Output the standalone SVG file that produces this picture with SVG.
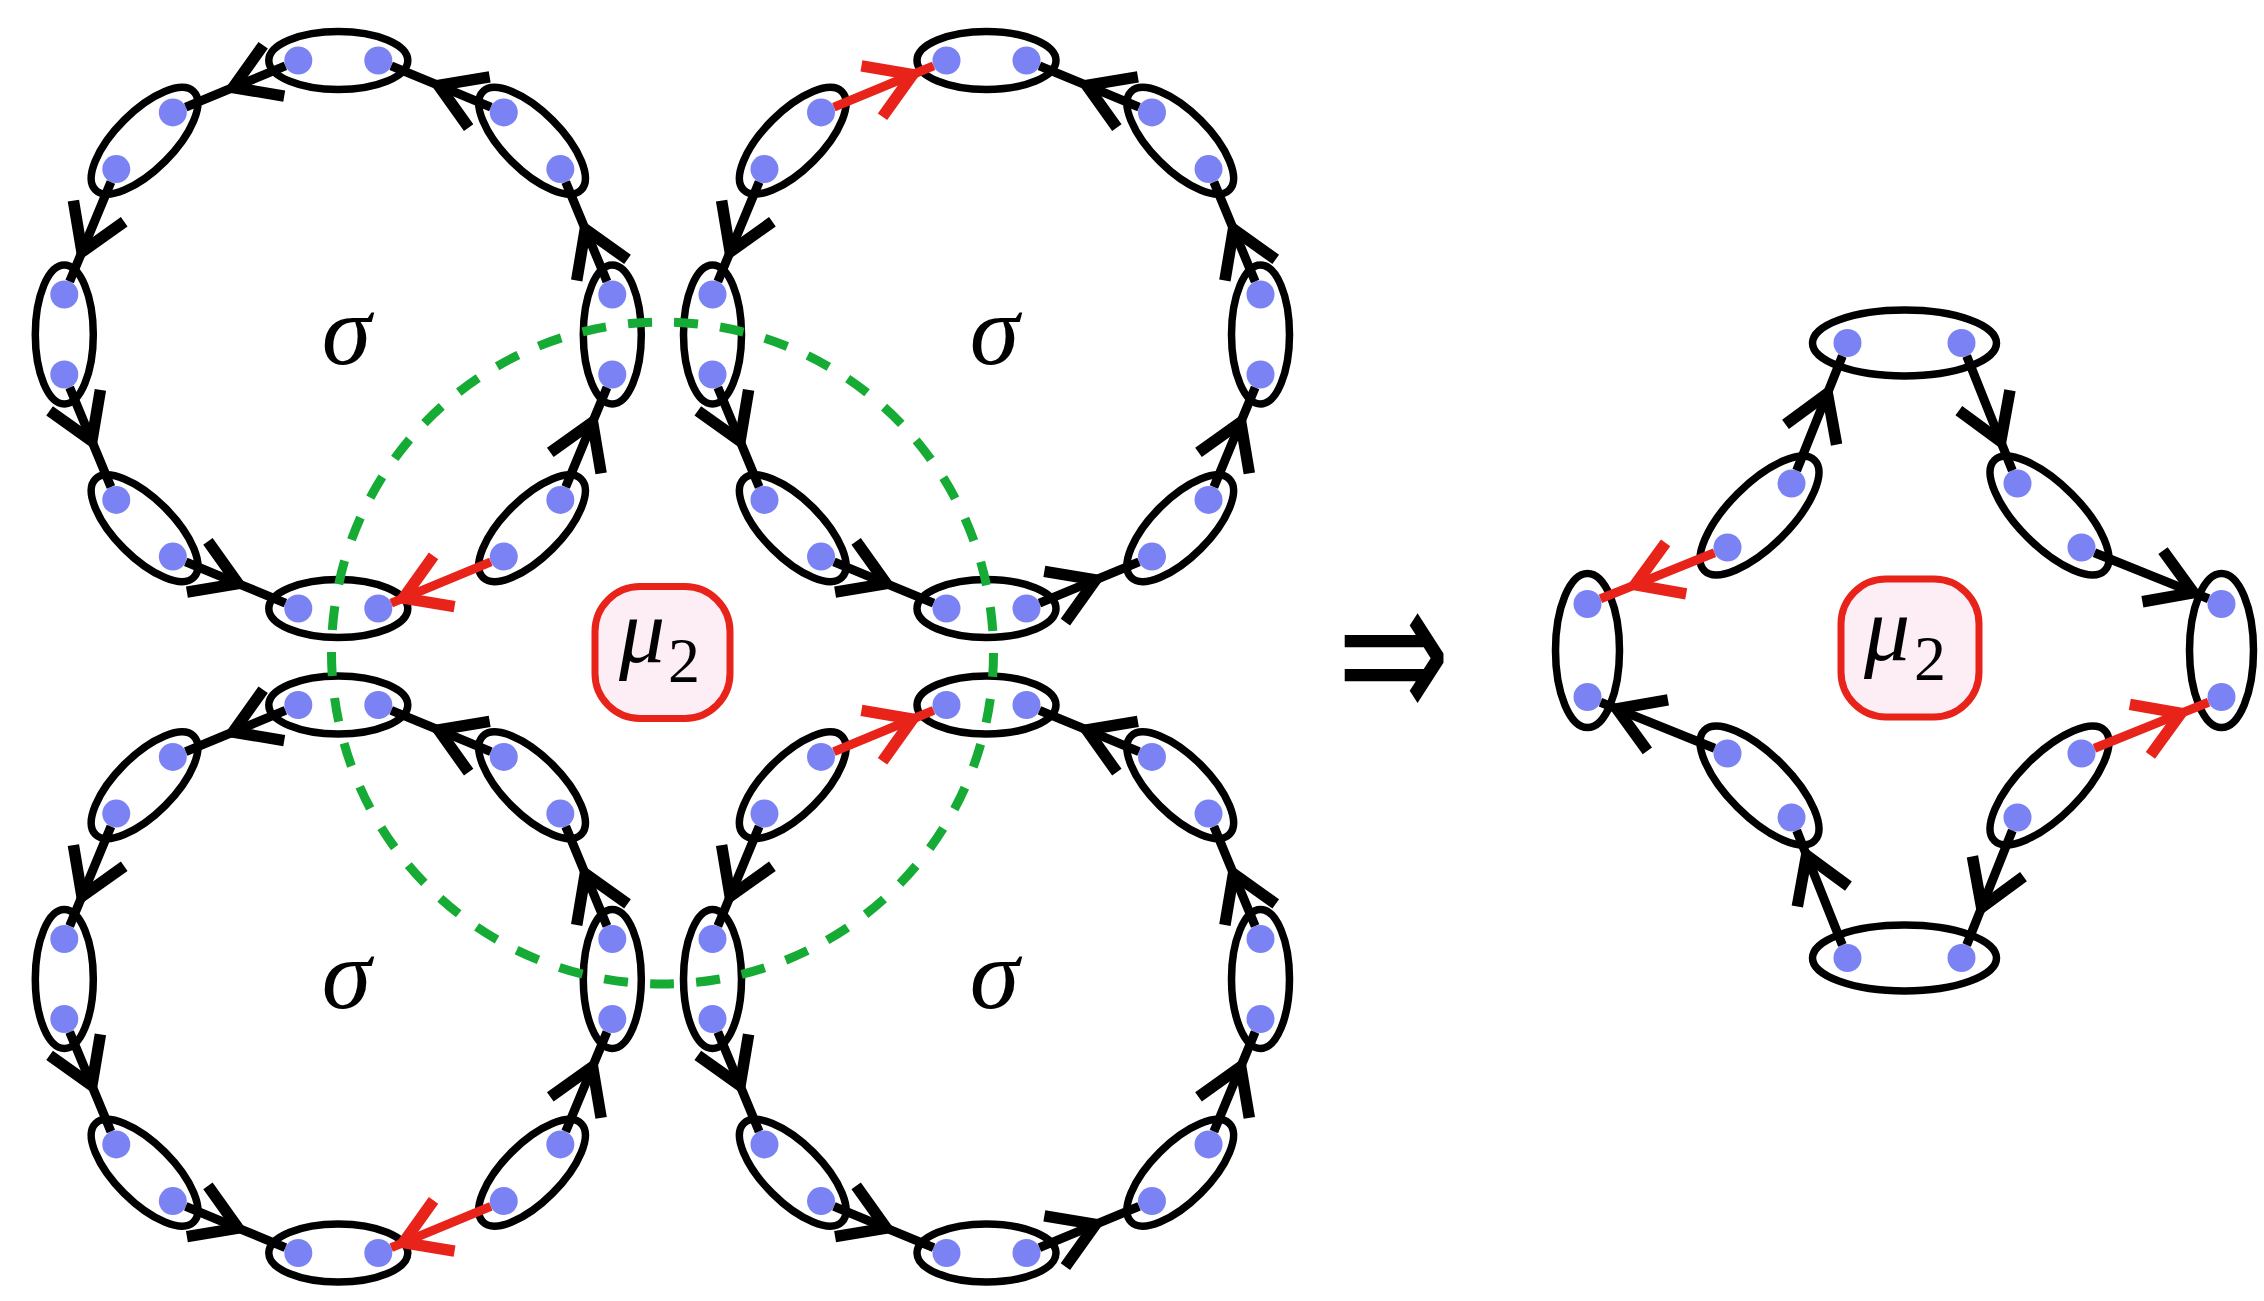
<svg xmlns="http://www.w3.org/2000/svg" width="2264" height="1301" viewBox="0 0 2264 1301">
<style>
.oval{fill:none;stroke:#000;stroke-width:7.5}
.dot{fill:#7b83f4}
.ck{fill:none;stroke:#000;stroke-width:9;marker-mid:url(#chk)}
.cr{fill:none;stroke:#e8231a;stroke-width:9;marker-mid:url(#chr)}
.sig{font-family:"Liberation Serif",serif;font-style:italic;font-size:100px;text-anchor:middle;fill:#000}
.mu{font-family:"Liberation Serif",serif;fill:#000}
.box{fill:#fdeef5;stroke:#e8231a;stroke-width:7}
.green{fill:none;stroke:#16ab35;stroke-width:9;stroke-dasharray:24 22.2}
</style>
<defs>
<marker id="chk" markerUnits="userSpaceOnUse" orient="auto" overflow="visible" markerWidth="10" markerHeight="10" refX="0" refY="0">
<path d="M-44,-27.5 L0,0 L-44,27.5" fill="none" stroke="#000" stroke-width="11.5"/>
</marker>
<marker id="chr" markerUnits="userSpaceOnUse" orient="auto" overflow="visible" markerWidth="10" markerHeight="10" refX="0" refY="0">
<path d="M-44,-27.5 L0,0 L-44,27.5" fill="none" stroke="#e8231a" stroke-width="11.5"/>
</marker>
</defs>
<rect width="2264" height="1301" fill="#fff"/>

<!-- Ring A (top-left) -->
<g id="ringA" transform="translate(338.3,334.5)">
<g id="A-T"><ellipse class="oval" cx="0" cy="-274" rx="69.5" ry="29"/><circle class="dot" cx="-40" cy="-274" r="14"/><circle class="dot" cx="40" cy="-274" r="14"/></g>
<g id="A-TR"><ellipse class="oval" rx="69.5" ry="29" transform="translate(193.75,-193.75) rotate(45)"/><circle class="dot" cx="165.47" cy="-222.03" r="14"/><circle class="dot" cx="222.03" cy="-165.47" r="14"/></g>
<g id="A-R"><ellipse class="oval" rx="69.5" ry="29" transform="translate(274,0) rotate(90)"/><circle class="dot" cx="274" cy="-40" r="14"/><circle class="dot" cx="274" cy="40" r="14"/></g>
<g id="A-BR"><ellipse class="oval" rx="69.5" ry="29" transform="translate(193.75,193.75) rotate(135)"/><circle class="dot" cx="222.03" cy="165.47" r="14"/><circle class="dot" cx="165.47" cy="222.03" r="14"/></g>
<g id="A-B"><ellipse class="oval" cx="0" cy="274" rx="69.5" ry="29"/><circle class="dot" cx="40" cy="274" r="14"/><circle class="dot" cx="-40" cy="274" r="14"/></g>
<g id="A-BL"><ellipse class="oval" rx="69.5" ry="29" transform="translate(-193.75,193.75) rotate(45)"/><circle class="dot" cx="-165.47" cy="222.03" r="14"/><circle class="dot" cx="-222.03" cy="165.47" r="14"/></g>
<g id="A-L"><ellipse class="oval" rx="69.5" ry="29" transform="translate(-274,0) rotate(90)"/><circle class="dot" cx="-274" cy="40" r="14"/><circle class="dot" cx="-274" cy="-40" r="14"/></g>
<g id="A-TL"><ellipse class="oval" rx="69.5" ry="29" transform="translate(-193.75,-193.75) rotate(135)"/><circle class="dot" cx="-222.03" cy="-165.47" r="14"/><circle class="dot" cx="-165.47" cy="-222.03" r="14"/></g>
<g id="A-connectors">
<path class="ck" d="M152.54,-227.39 L100.23,-249.05 L52.93,-268.64"/>
<path class="ck" d="M268.64,-52.93 L246.98,-105.24 L227.39,-152.54"/>
<path class="ck" d="M227.39,152.54 L254.25,87.68 L268.64,52.93"/>
<path class="cr" d="M152.54,227.39 L65.09,263.61 L52.93,268.64"/>
<path class="ck" d="M-152.54,227.39 L-100.23,249.05 L-52.93,268.64"/>
<path class="ck" d="M-268.64,52.93 L-246.46,106.5 L-227.39,152.54"/>
<path class="ck" d="M-227.39,-152.54 L-256.33,-82.66 L-268.64,-52.93"/>
<path class="ck" d="M-52.93,-268.64 L-105.24,-246.98 L-152.54,-227.39"/>
</g>
<text class="sig" x="8" y="29">σ</text>
</g>

<!-- Ring B (top-right) -->
<g id="ringB" transform="translate(986.5,334.5)">
<g id="B-T"><ellipse class="oval" cx="0" cy="-274" rx="69.5" ry="29"/><circle class="dot" cx="-40" cy="-274" r="14"/><circle class="dot" cx="40" cy="-274" r="14"/></g>
<g id="B-TR"><ellipse class="oval" rx="69.5" ry="29" transform="translate(193.75,-193.75) rotate(45)"/><circle class="dot" cx="165.47" cy="-222.03" r="14"/><circle class="dot" cx="222.03" cy="-165.47" r="14"/></g>
<g id="B-R"><ellipse class="oval" rx="69.5" ry="29" transform="translate(274,0) rotate(90)"/><circle class="dot" cx="274" cy="-40" r="14"/><circle class="dot" cx="274" cy="40" r="14"/></g>
<g id="B-BR"><ellipse class="oval" rx="69.5" ry="29" transform="translate(193.75,193.75) rotate(135)"/><circle class="dot" cx="222.03" cy="165.47" r="14"/><circle class="dot" cx="165.47" cy="222.03" r="14"/></g>
<g id="B-B"><ellipse class="oval" cx="0" cy="274" rx="69.5" ry="29"/><circle class="dot" cx="40" cy="274" r="14"/><circle class="dot" cx="-40" cy="274" r="14"/></g>
<g id="B-BL"><ellipse class="oval" rx="69.5" ry="29" transform="translate(-193.75,193.75) rotate(45)"/><circle class="dot" cx="-165.47" cy="222.03" r="14"/><circle class="dot" cx="-222.03" cy="165.47" r="14"/></g>
<g id="B-L"><ellipse class="oval" rx="69.5" ry="29" transform="translate(-274,0) rotate(90)"/><circle class="dot" cx="-274" cy="40" r="14"/><circle class="dot" cx="-274" cy="-40" r="14"/></g>
<g id="B-TL"><ellipse class="oval" rx="69.5" ry="29" transform="translate(-193.75,-193.75) rotate(135)"/><circle class="dot" cx="-222.03" cy="-165.47" r="14"/><circle class="dot" cx="-165.47" cy="-222.03" r="14"/></g>
<g id="B-connectors">
<path class="ck" d="M152.54,-227.39 L100.23,-249.05 L52.93,-268.64"/>
<path class="ck" d="M268.64,-52.93 L246.98,-105.24 L227.39,-152.54"/>
<path class="ck" d="M227.39,152.54 L254.25,87.68 L268.64,52.93"/>
<path class="ck" d="M52.93,268.64 L109.01,245.42 L152.54,227.39"/>
<path class="ck" d="M-152.54,227.39 L-100.23,249.05 L-52.93,268.64"/>
<path class="ck" d="M-268.64,52.93 L-246.46,106.5 L-227.39,152.54"/>
<path class="ck" d="M-227.39,-152.54 L-256.33,-82.66 L-268.64,-52.93"/>
<path class="cr" d="M-152.54,-227.39 L-73.88,-259.97 L-52.93,-268.64"/>
</g>
<text class="sig" x="8" y="29">σ</text>
</g>

<!-- Ring C (bottom-left) -->
<g id="ringC" transform="translate(338.3,979)">
<g id="C-T"><ellipse class="oval" cx="0" cy="-274" rx="69.5" ry="29"/><circle class="dot" cx="-40" cy="-274" r="14"/><circle class="dot" cx="40" cy="-274" r="14"/></g>
<g id="C-TR"><ellipse class="oval" rx="69.5" ry="29" transform="translate(193.75,-193.75) rotate(45)"/><circle class="dot" cx="165.47" cy="-222.03" r="14"/><circle class="dot" cx="222.03" cy="-165.47" r="14"/></g>
<g id="C-R"><ellipse class="oval" rx="69.5" ry="29" transform="translate(274,0) rotate(90)"/><circle class="dot" cx="274" cy="-40" r="14"/><circle class="dot" cx="274" cy="40" r="14"/></g>
<g id="C-BR"><ellipse class="oval" rx="69.5" ry="29" transform="translate(193.75,193.75) rotate(135)"/><circle class="dot" cx="222.03" cy="165.47" r="14"/><circle class="dot" cx="165.47" cy="222.03" r="14"/></g>
<g id="C-B"><ellipse class="oval" cx="0" cy="274" rx="69.5" ry="29"/><circle class="dot" cx="40" cy="274" r="14"/><circle class="dot" cx="-40" cy="274" r="14"/></g>
<g id="C-BL"><ellipse class="oval" rx="69.5" ry="29" transform="translate(-193.75,193.75) rotate(45)"/><circle class="dot" cx="-165.47" cy="222.03" r="14"/><circle class="dot" cx="-222.03" cy="165.47" r="14"/></g>
<g id="C-L"><ellipse class="oval" rx="69.5" ry="29" transform="translate(-274,0) rotate(90)"/><circle class="dot" cx="-274" cy="40" r="14"/><circle class="dot" cx="-274" cy="-40" r="14"/></g>
<g id="C-TL"><ellipse class="oval" rx="69.5" ry="29" transform="translate(-193.75,-193.75) rotate(135)"/><circle class="dot" cx="-222.03" cy="-165.47" r="14"/><circle class="dot" cx="-165.47" cy="-222.03" r="14"/></g>
<g id="C-connectors">
<path class="ck" d="M152.54,-227.39 L100.23,-249.05 L52.93,-268.64"/>
<path class="ck" d="M268.64,-52.93 L246.98,-105.24 L227.39,-152.54"/>
<path class="ck" d="M227.39,152.54 L254.25,87.68 L268.64,52.93"/>
<path class="cr" d="M152.54,227.39 L65.09,263.61 L52.93,268.64"/>
<path class="ck" d="M-152.54,227.39 L-100.23,249.05 L-52.93,268.64"/>
<path class="ck" d="M-268.64,52.93 L-246.46,106.5 L-227.39,152.54"/>
<path class="ck" d="M-227.39,-152.54 L-256.33,-82.66 L-268.64,-52.93"/>
<path class="ck" d="M-52.93,-268.64 L-105.24,-246.98 L-152.54,-227.39"/>
</g>
<text class="sig" x="8" y="29">σ</text>
</g>

<!-- Ring D (bottom-right) -->
<g id="ringD" transform="translate(986.5,979)">
<g id="D-T"><ellipse class="oval" cx="0" cy="-274" rx="69.5" ry="29"/><circle class="dot" cx="-40" cy="-274" r="14"/><circle class="dot" cx="40" cy="-274" r="14"/></g>
<g id="D-TR"><ellipse class="oval" rx="69.5" ry="29" transform="translate(193.75,-193.75) rotate(45)"/><circle class="dot" cx="165.47" cy="-222.03" r="14"/><circle class="dot" cx="222.03" cy="-165.47" r="14"/></g>
<g id="D-R"><ellipse class="oval" rx="69.5" ry="29" transform="translate(274,0) rotate(90)"/><circle class="dot" cx="274" cy="-40" r="14"/><circle class="dot" cx="274" cy="40" r="14"/></g>
<g id="D-BR"><ellipse class="oval" rx="69.5" ry="29" transform="translate(193.75,193.75) rotate(135)"/><circle class="dot" cx="222.03" cy="165.47" r="14"/><circle class="dot" cx="165.47" cy="222.03" r="14"/></g>
<g id="D-B"><ellipse class="oval" cx="0" cy="274" rx="69.5" ry="29"/><circle class="dot" cx="40" cy="274" r="14"/><circle class="dot" cx="-40" cy="274" r="14"/></g>
<g id="D-BL"><ellipse class="oval" rx="69.5" ry="29" transform="translate(-193.75,193.75) rotate(45)"/><circle class="dot" cx="-165.47" cy="222.03" r="14"/><circle class="dot" cx="-222.03" cy="165.47" r="14"/></g>
<g id="D-L"><ellipse class="oval" rx="69.5" ry="29" transform="translate(-274,0) rotate(90)"/><circle class="dot" cx="-274" cy="40" r="14"/><circle class="dot" cx="-274" cy="-40" r="14"/></g>
<g id="D-TL"><ellipse class="oval" rx="69.5" ry="29" transform="translate(-193.75,-193.75) rotate(135)"/><circle class="dot" cx="-222.03" cy="-165.47" r="14"/><circle class="dot" cx="-165.47" cy="-222.03" r="14"/></g>
<g id="D-connectors">
<path class="ck" d="M152.54,-227.39 L100.23,-249.05 L52.93,-268.64"/>
<path class="ck" d="M268.64,-52.93 L246.98,-105.24 L227.39,-152.54"/>
<path class="ck" d="M227.39,152.54 L254.25,87.68 L268.64,52.93"/>
<path class="ck" d="M52.93,268.64 L109.01,245.42 L152.54,227.39"/>
<path class="ck" d="M-152.54,227.39 L-100.23,249.05 L-52.93,268.64"/>
<path class="ck" d="M-268.64,52.93 L-246.46,106.5 L-227.39,152.54"/>
<path class="ck" d="M-227.39,-152.54 L-256.33,-82.66 L-268.64,-52.93"/>
<path class="cr" d="M-152.54,-227.39 L-73.88,-259.97 L-52.93,-268.64"/>
</g>
<text class="sig" x="8" y="29">σ</text>
</g>

<!-- green dashed loop -->
<circle id="loop" class="green" cx="662.5" cy="653" r="331"/>

<!-- mu box (left) -->
<g id="mu-left">
<rect class="box" x="595" y="586.5" width="135" height="132" rx="45" ry="45"/>
<text class="mu"><tspan x="619" y="662" font-size="92" font-style="italic">μ</tspan><tspan x="668" y="682" font-size="64">2</tspan></text>
</g>

<!-- implication arrow -->
<text id="implies" x="1337" y="724" font-family="DejaVu Sans, sans-serif" font-size="210" textLength="113" lengthAdjust="spacingAndGlyphs">⇒</text>

<!-- Right diagram -->
<g id="merged" transform="translate(1904.5,650.5)">
<g id="M-T"><ellipse class="oval" cx="0" cy="-307.5" rx="92" ry="33"/><circle class="dot" cx="-57" cy="-307.5" r="14"/><circle class="dot" cx="57" cy="-307.5" r="14"/></g>
<g id="M-B"><ellipse class="oval" cx="0" cy="307.5" rx="92" ry="33"/><circle class="dot" cx="-57" cy="307.5" r="14"/><circle class="dot" cx="57" cy="307.5" r="14"/></g>
<g id="M-L"><ellipse class="oval" cx="-317" cy="0" rx="32" ry="77"/><circle class="dot" cx="-317" cy="-46.5" r="14"/><circle class="dot" cx="-317" cy="46.5" r="14"/></g>
<g id="M-R"><ellipse class="oval" cx="317" cy="0" rx="32" ry="77"/><circle class="dot" cx="317" cy="-46.5" r="14"/><circle class="dot" cx="317" cy="46.5" r="14"/></g>
<g id="M-UL"><ellipse class="oval" rx="78" ry="31" transform="translate(-145,-135) rotate(-45)"/><circle class="dot" cx="-113" cy="-167" r="14"/><circle class="dot" cx="-177" cy="-103" r="14"/></g>
<g id="M-UR"><ellipse class="oval" rx="78" ry="31" transform="translate(145,-135) rotate(45)"/><circle class="dot" cx="113" cy="-167" r="14"/><circle class="dot" cx="177" cy="-103" r="14"/></g>
<g id="M-LL"><ellipse class="oval" rx="78" ry="31" transform="translate(-145,135) rotate(45)"/><circle class="dot" cx="-177" cy="103" r="14"/><circle class="dot" cx="-113" cy="167" r="14"/></g>
<g id="M-LR"><ellipse class="oval" rx="78" ry="31" transform="translate(145,135) rotate(-45)"/><circle class="dot" cx="177" cy="103" r="14"/><circle class="dot" cx="113" cy="167" r="14"/></g>
<g id="M-connectors">
<path class="ck" d="M-107.82,-180 L-77.16,-256.92 L-62.18,-294.5"/>
<path class="ck" d="M62.18,-294.5 L96.2,-209.15 L107.82,-180"/>
<path class="ck" d="M189.98,-97.76 L289,-57.8 L304.02,-51.74"/>
<path class="cr" d="M189.98,97.76 L276.4,62.9 L304.02,51.74"/>
<path class="ck" d="M107.82,180 L77.16,256.92 L62.18,294.5"/>
<path class="ck" d="M-62.18,294.5 L-97.9,204.9 L-107.82,180"/>
<path class="ck" d="M-189.98,97.76 L-287.6,58.4 L-304.02,51.74"/>
<path class="cr" d="M-189.98,-97.76 L-269.4,-65.7 L-304.02,-51.74"/>
</g>
</g>

<!-- mu box (right) -->
<g id="mu-right">
<rect class="box" x="1841" y="579" width="138" height="138" rx="45" ry="45"/>
<text class="mu"><tspan x="1864" y="660" font-size="92" font-style="italic">μ</tspan><tspan x="1914" y="680" font-size="64">2</tspan></text>
</g>
</svg>
